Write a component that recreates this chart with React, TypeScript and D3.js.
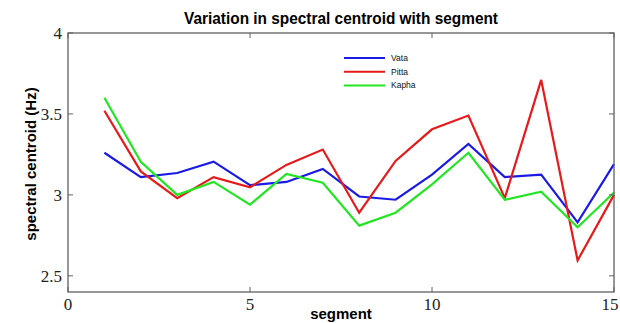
import React from "react";
import * as d3 from "d3";

const segments = [1, 2, 3, 4, 5, 6, 7, 8, 9, 10, 11, 12, 13, 14, 15];
const vata = [3.26, 3.11, 3.135, 3.205, 3.06, 3.08, 3.16, 2.99, 2.97, 3.125, 3.315, 3.11, 3.125, 2.83, 3.19];
const pitta = [3.52, 3.145, 2.98, 3.11, 3.047, 3.185, 3.28, 2.89, 3.21, 3.405, 3.49, 2.98, 3.71, 2.595, 3.0];
const kapha = [3.6, 3.205, 3.0, 3.08, 2.94, 3.13, 3.075, 2.81, 2.89, 3.065, 3.26, 2.97, 3.02, 2.8, 3.015];
const xTicks = [0, 5, 10, 15];
const yTicks = [2.5, 3, 3.5, 4];
const seriesNames = ["Vata", "Pitta", "Kapha"];
const seriesColors = ["#1a1ae6", "#e61a1a", "#22e622"];

export default function App() {
  const W = 620, H = 323;
  const L = 68, R = 614, T = 33, B = 292;
  const x = d3.scaleLinear().domain([0, 15]).range([L, R]);
  const y = d3.scaleLinear().domain([2.4, 4]).range([B, T]);
  const series = [vata, pitta, kapha];
  const line = d3
    .line<number>()
    .x((_, i) => x(segments[i]))
    .y((d) => y(d));
  const tl = 5;
  const axisColor = "#606060";
  return (
    <svg
      width={W}
      height={H}
      style={{ position: "absolute", left: 0, top: 0, background: "#fff" }}
    >
      <rect x={0} y={0} width={W} height={H} fill="#fff" />
      <text
        x={(L + R) / 2}
        y={24}
        textAnchor="middle"
        fontFamily="Liberation Sans, Arial, sans-serif"
        fontWeight="bold"
        fontSize={16}
        textLength={314}
        lengthAdjust="spacingAndGlyphs"
      >
        Variation in spectral centroid with segment
      </text>
      {series.map((s, k) => (
        <path key={k} d={line(s) || ""} fill="none" stroke={seriesColors[k]} strokeWidth={2.2} strokeLinejoin="miter" />
      ))}
      <rect x={L} y={T} width={R - L} height={B - T} fill="none" stroke={axisColor} strokeWidth={1.3} />
      {xTicks.map((t) => (
        <g key={"x" + t}>
          <line x1={x(t)} x2={x(t)} y1={B} y2={B - tl} stroke={axisColor} />
          <line x1={x(t)} x2={x(t)} y1={T} y2={T + tl} stroke={axisColor} />
          <text
            x={t === 15 ? x(t) - 4 : x(t)}
            y={B + 18}
            textAnchor="middle"
            fontFamily="Liberation Serif, Times New Roman, serif"
            fontSize={17}
            fill="#222"
          >
            {t}
          </text>
        </g>
      ))}
      {yTicks.map((t) => (
        <g key={"y" + t}>
          <line x1={L} x2={L + tl} y1={y(t)} y2={y(t)} stroke={axisColor} />
          <line x1={R} x2={R - tl} y1={y(t)} y2={y(t)} stroke={axisColor} />
          <text
            x={L - 6}
            y={y(t) + 6}
            textAnchor="end"
            fontFamily="Liberation Serif, Times New Roman, serif"
            fontSize={17}
            fill="#222"
          >
            {t}
          </text>
        </g>
      ))}
      <text
        x={(L + R) / 2}
        y={318.5}
        textAnchor="middle"
        fontFamily="Liberation Sans, Arial, sans-serif"
        fontWeight="bold"
        fontSize={15}
      >
        segment
      </text>
      <text
        transform={`translate(36, 164) rotate(-90)`}
        textAnchor="middle"
        fontFamily="Liberation Sans, Arial, sans-serif"
        fontWeight="bold"
        fontSize={15}
      >
        spectral centroid (Hz)
      </text>
      {seriesNames.map((n, k) => {
        const ly = 58 + k * 13.7;
        return (
          <g key={n}>
            <line x1={344} x2={385} y1={ly} y2={ly} stroke={seriesColors[k]} strokeWidth={2} />
            <text
              x={391}
              y={ly + 3}
              fontFamily="Liberation Sans, Arial, sans-serif"
              fontSize={8.5}
              fill="#111"
            >
              {n}
            </text>
          </g>
        );
      })}
    </svg>
  );
}
